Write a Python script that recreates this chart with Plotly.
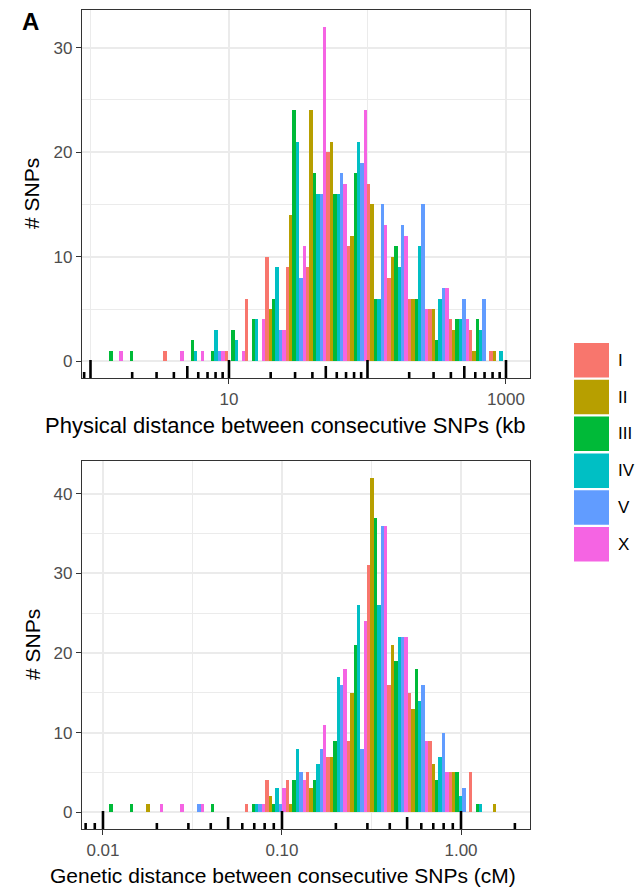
import numpy as np
import plotly.graph_objects as go

# ---------------------------------------------------------------- data
CHROMOSOMES = ["I", "II", "III", "IV", "V", "X"]
HUE_COLOURS = ["#F8766D", "#B79F00", "#00BA38", "#00BFC4", "#619CFF", "#F564E3"]
N_BINS = 20

# Physical distance between consecutive SNPs (kb): shortest and longest gap
PHYS_RANGE_KB = [1.443, 897.0]
PHYS_I = [0, 0, 0, 1, 0, 0, 1, 6, 10, 9, 9, 20, 11, 17, 8, 6, 5, 4, 3, 1]
PHYS_II = [0, 0, 0, 0, 0, 0, 0, 0, 5, 14, 24, 21, 12, 15, 10, 6, 5, 3, 1, 1]
PHYS_III = [1, 1, 0, 0, 2, 1, 3, 4, 6, 24, 18, 16, 18, 6, 11, 6, 2, 4, 4, 0]
PHYS_IV = [0, 0, 0, 0, 1, 3, 2, 4, 9, 21, 16, 16, 21, 6, 9, 11, 6, 4, 3, 1]
PHYS_V = [0, 0, 0, 0, 0, 1, 0, 0, 3, 8, 16, 18, 19, 15, 13, 15, 7, 6, 6, 0]
PHYS_X = [1, 0, 0, 1, 1, 1, 1, 4, 3, 11, 32, 17, 24, 13, 12, 5, 7, 4, 0, 0]
PHYS_BREAKS = [10, 1000]
PHYS_BREAK_LABELS = ["10", "1000"]

# Genetic distance between consecutive SNPs (cM): shortest and longest gap
GEN_RANGE_CM = [0.01131, 1.640]
GEN_I = [0, 0, 0, 0, 0, 0, 0, 1, 4, 4, 5, 7, 9, 31, 16, 15, 9, 5, 5, 0]
GEN_II = [0, 0, 1, 0, 0, 0, 0, 0, 2, 1, 3, 7, 15, 42, 21, 13, 6, 5, 0, 1]
GEN_III = [1, 1, 0, 0, 0, 1, 0, 1, 1, 4, 4, 9, 21, 37, 19, 18, 4, 5, 1, 0]
GEN_IV = [0, 0, 0, 0, 0, 0, 0, 1, 3, 8, 6, 17, 26, 26, 22, 14, 7, 2, 1, 0]
GEN_V = [0, 0, 0, 0, 1, 0, 0, 1, 1, 5, 8, 16, 8, 36, 22, 16, 10, 3, 0, 0]
GEN_X = [0, 0, 1, 1, 1, 0, 0, 1, 3, 4, 11, 18, 24, 36, 22, 9, 5, 0, 0, 0]
GEN_BREAKS = [0.01, 0.1, 1.0]
GEN_BREAK_LABELS = ["0.01", "0.10", "1.00"]

PHYS_SERIES = [PHYS_I, PHYS_II, PHYS_III, PHYS_IV, PHYS_V, PHYS_X]
GEN_SERIES = [GEN_I, GEN_II, GEN_III, GEN_IV, GEN_V, GEN_X]

# ---------------------------------------------------------------- geometry
W, H = 641, 888
PLOT_L, PLOT_R, PLOT_T, PLOT_B = 82, 530, 10, 829
PANEL_H = 368
TOP_PANEL = (PLOT_T, PLOT_T + PANEL_H)          # pixel rows of the upper panel
BOT_PANEL = (PLOT_B - PANEL_H, PLOT_B)          # pixel rows of the lower panel

FONT = "Liberation Sans, Arial, Helvetica, sans-serif"
GRID = "#EBEBEB"
BORDER = "#333333"
TICK_TEXT = "#4D4D4D"


def px_x(px):
    return (px - PLOT_L) / (PLOT_R - PLOT_L)


def px_y(py):
    return (PLOT_B - py) / (PLOT_B - PLOT_T)


def bin_layout(rng):
    """Bin centres (log10) for N_BINS bins centred on the extremes, plus the
    padded axis range (5% on each side of the bar extent)."""
    lo, hi = np.log10(rng[0]), np.log10(rng[1])
    centres = np.linspace(lo, hi, N_BINS)
    w = (hi - lo) / (N_BINS - 1)
    extent = (lo - w / 2, hi + w / 2)
    pad = 0.05 * (extent[1] - extent[0])
    return centres, (extent[0] - pad, extent[1] + pad)


def minor_breaks(breaks, axis_range):
    b = np.log10(breaks)
    step = b[1] - b[0] if len(b) > 1 else 1.0
    ext = np.concatenate([[b[0] - step], b, [b[-1] + step]])
    mids = (ext[:-1] + ext[1:]) / 2
    return [m for m in mids if axis_range[0] <= m <= axis_range[1]]


def log_ticks(axis_range):
    """annotation_logticks style marks: (log10 position, length in px)."""
    out = []
    for k in range(int(np.floor(axis_range[0])) - 1, int(np.ceil(axis_range[1])) + 1):
        for m in range(1, 10):
            v = k + np.log10(m)
            if axis_range[0] <= v <= axis_range[1]:
                out.append((v, 18 if m == 1 else (12 if m == 5 else 6)))
    return out


phys_centres, phys_range = bin_layout(PHYS_RANGE_KB)
gen_centres, gen_range = bin_layout(GEN_RANGE_CM)

fig = go.Figure()

for name, colour, p_counts, g_counts in zip(CHROMOSOMES, HUE_COLOURS, PHYS_SERIES, GEN_SERIES):
    fig.add_trace(go.Bar(x=phys_centres, y=p_counts, name=name, marker_color=colour,
                         marker_line_width=0, xaxis="x", yaxis="y", showlegend=False))
    fig.add_trace(go.Bar(x=gen_centres, y=g_counts, name=name, marker_color=colour,
                         marker_line_width=0, xaxis="x2", yaxis="y2", showlegend=False))


def x_axis(rng, breaks, labels, anchor):
    return dict(
        range=list(rng), anchor=anchor, domain=[0, 1],
        tickvals=list(np.log10(breaks)), ticktext=labels,
        ticks="outside", ticklen=5, tickwidth=1.3, tickcolor=BORDER,
        tickfont=dict(family=FONT, size=17, color=TICK_TEXT),
        showgrid=True, gridcolor=GRID, gridwidth=2,
        minor=dict(tickvals=minor_breaks(breaks, rng), showgrid=True,
                   gridcolor=GRID, gridwidth=1, ticks=""),
        showline=True, mirror=True, linecolor=BORDER, linewidth=1.4,
        zeroline=False, fixedrange=True,
    )


def y_axis(counts, domain, anchor):
    top = max(max(c) for c in counts)
    return dict(
        range=[-0.05 * top, 1.05 * top], anchor=anchor, domain=domain,
        tick0=0, dtick=10,
        ticks="outside", ticklen=5, tickwidth=1.3, tickcolor=BORDER,
        tickfont=dict(family=FONT, size=17, color=TICK_TEXT),
        showgrid=True, gridcolor=GRID, gridwidth=2,
        minor=dict(dtick=5, showgrid=True, gridcolor=GRID, gridwidth=1, ticks=""),
        showline=True, mirror=True, linecolor=BORDER, linewidth=1.4,
        zeroline=False, fixedrange=True,
    )


top_dom = [px_y(TOP_PANEL[1]), px_y(TOP_PANEL[0])]
bot_dom = [px_y(BOT_PANEL[1]), px_y(BOT_PANEL[0])]

shapes = []
for xref, yref, rng in (("x", "y domain", phys_range), ("x2", "y2 domain", gen_range)):
    for v, length in log_ticks(rng):
        shapes.append(dict(type="line", xref=xref, yref=yref, x0=v, x1=v,
                           y0=0, y1=length / PANEL_H,
                           line=dict(color="black", width=2.6), layer="above"))

# legend keys
annotations = []
KEY_X0, KEY_X1 = 574, 609
KEY_TOP, KEY_PITCH, KEY_H = 343, 36.8, 34.5
for i, (name, colour) in enumerate(zip(CHROMOSOMES, HUE_COLOURS)):
    y0 = KEY_TOP + i * KEY_PITCH
    shapes.append(dict(type="rect", xref="paper", yref="paper",
                       x0=px_x(KEY_X0), x1=px_x(KEY_X1),
                       y0=px_y(y0 + KEY_H), y1=px_y(y0),
                       fillcolor=colour, line=dict(width=0)))
    annotations.append(dict(text=name, xref="paper", yref="paper",
                            x=px_x(616), y=px_y(y0 + KEY_H / 2),
                            xanchor="left", yanchor="middle", showarrow=False,
                            font=dict(family=FONT, size=17, color="black")))

# axis titles and panel tag
annotations += [
    dict(text="Physical distance between consecutive SNPs (kb", xref="paper", yref="paper",
         x=px_x(43), y=px_y(425), xanchor="left", yanchor="middle", showarrow=False,
         font=dict(family=FONT, size=22, color="black")),
    dict(text="Genetic distance between consecutive SNPs (cM)", xref="paper", yref="paper",
         x=px_x(48), y=px_y(875), xanchor="left", yanchor="middle", showarrow=False,
         font=dict(family=FONT, size=21, color="black")),
    dict(text="# SNPs", xref="paper", yref="paper", textangle=-90,
         x=px_x(32), y=px_y(sum(TOP_PANEL) / 2), xanchor="center", yanchor="middle",
         showarrow=False, font=dict(family=FONT, size=21, color="black")),
    dict(text="# SNPs", xref="paper", yref="paper", textangle=-90,
         x=px_x(32), y=px_y(sum(BOT_PANEL) / 2), xanchor="center", yanchor="middle",
         showarrow=False, font=dict(family=FONT, size=21, color="black")),
    dict(text="<b>A</b>", xref="paper", yref="paper",
         x=px_x(20), y=px_y(22), xanchor="left", yanchor="middle", showarrow=False,
         font=dict(family=FONT, size=24, color="black")),
]

fig.update_layout(
    width=W, height=H,
    margin=dict(l=PLOT_L, r=W - PLOT_R, t=PLOT_T, b=H - PLOT_B, pad=0),
    paper_bgcolor="white", plot_bgcolor="white",
    barmode="group", bargap=0, bargroupgap=0,
    xaxis=x_axis(phys_range, PHYS_BREAKS, PHYS_BREAK_LABELS, "y"),
    yaxis=y_axis(PHYS_SERIES, top_dom, "x"),
    xaxis2=x_axis(gen_range, GEN_BREAKS, GEN_BREAK_LABELS, "y2"),
    yaxis2=y_axis(GEN_SERIES, bot_dom, "x2"),
    shapes=shapes, annotations=annotations,
    showlegend=False, hovermode=False,
)

fig.write_html("out.html")
